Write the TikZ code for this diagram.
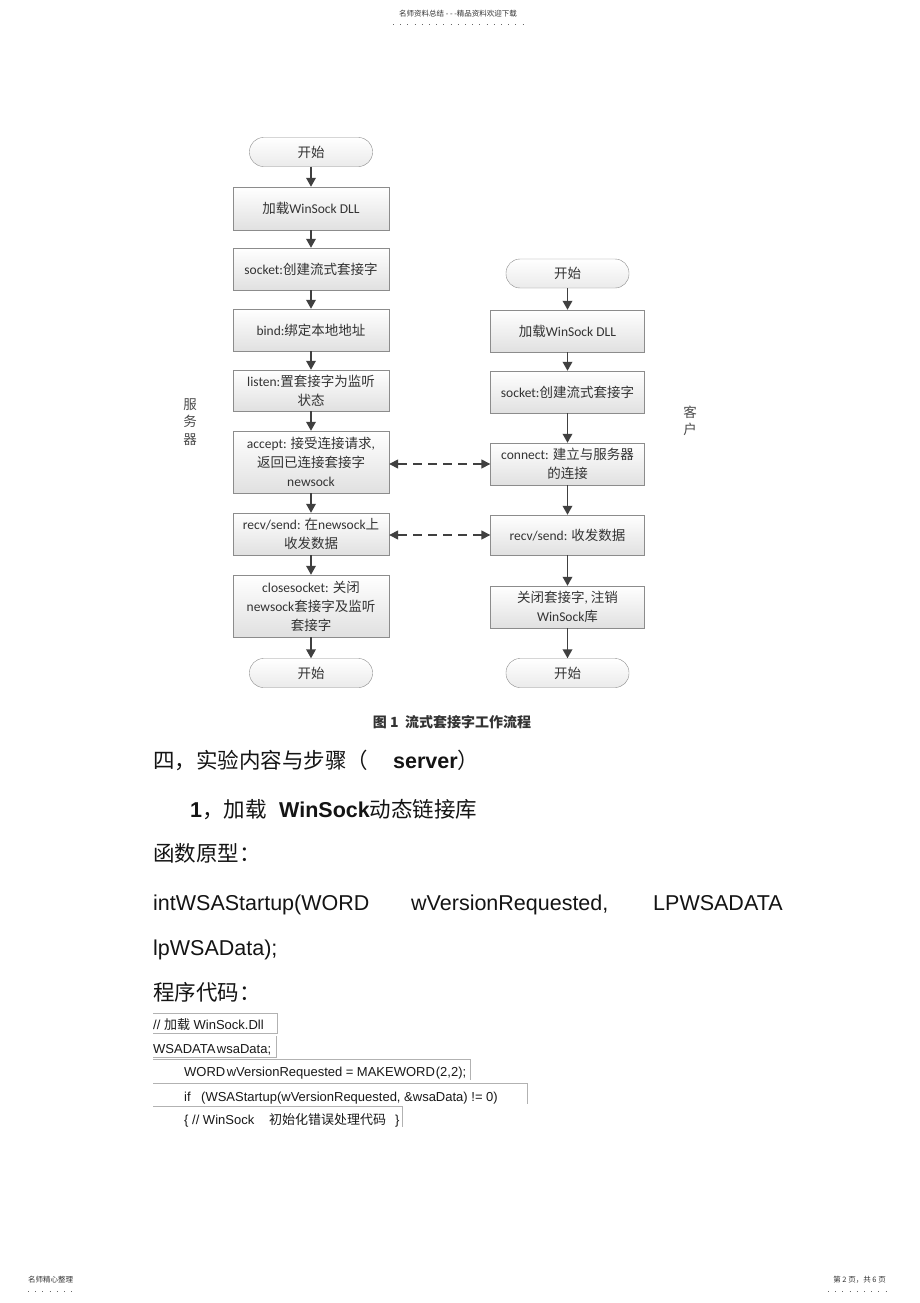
\documentclass[tikz,border=0pt]{standalone}
\usepackage{fontspec}
\setmainfont{Liberation Sans}
\newfontfamily\cjkf{Noto Sans CJK SC}
\newfontfamily\calf{Carlito}
\newcommand\ZH[1]{{\cjkf #1}}
\usetikzlibrary{arrows.meta}
\begin{document}
\begin{tikzpicture}[x=1pt,y=-1pt,
  fbox/.style={draw=black!45, top color=white, bottom color=black!12, text=black!80,
    font=\fontsize{13.5}{19}\selectfont\calf, align=center, inner sep=1pt, minimum width=156pt},
  rbox/.style={fbox, minimum width=154pt},
  term/.style={fbox, rounded corners=14pt, minimum width=123pt, minimum height=29pt, bottom color=black!8},
  arr/.style={draw=black!75, line width=1.8pt, -{Triangle[length=9pt,width=9.5pt]}},
  darr/.style={draw=black!75, line width=1.5pt, {Triangle[length=9pt,width=9pt]}-{Triangle[length=9pt,width=9pt]}, dash pattern=on 9pt off 6pt},
  side/.style={font=\fontsize{13.5}{17.5}\selectfont, text=black!70, align=center, inner sep=0pt},
  body/.style={anchor=base west, font=\fontsize{21.5}{25}\selectfont, text=black!92, inner sep=0pt},
  code/.style={anchor=base west, font=\fontsize{13}{15}\selectfont, text=black!90, inner sep=0pt},
  tiny/.style={font=\fontsize{7.5}{9}\selectfont, text=black!80, inner sep=0pt},
  dotline/.style={draw=black!60, line width=0.8pt, dash pattern=on 0.8pt off 6.4pt},
  cell/.style={draw=black!30, line width=0.7pt}]
\fill[white] (0,0) rectangle (920,1303);
\useasboundingbox (0,0) rectangle (920,1303);

% header
\node[tiny] (HD) at (458,14) {\ZH{名师资料总结 - - -精品资料欢迎下载}};
\coordinate (HDa) at (393,24); \coordinate (HDb) at (526,24);
\draw[dotline] (HDa) -- (HDb);

% left column (server)
\node[term] (L0) at (311,152) {\ZH{开始}};
\node[fbox, minimum height=43pt] (L1) at (311,208.5) {\ZH{加载}WinSock DLL};
\node[fbox, minimum height=42pt] (L2) at (311,269) {socket:\ZH{创建流式套接字}};
\node[fbox, minimum height=42pt] (L3) at (311,330) {bind:\ZH{绑定本地地址}};
\node[fbox, minimum height=41pt] (L4) at (311,390.5) {listen:\ZH{置套接字为监听}\\\ZH{状态}};
\node[fbox, minimum height=62pt] (L5) at (311,462) {accept: \ZH{接受连接请求},\\\ZH{返回已连接套接字}\\newsock};
\node[fbox, minimum height=42pt] (L6) at (311,534) {recv/send: \ZH{在}newsock\ZH{上}\\\ZH{收发数据}};
\node[fbox, minimum height=62pt] (L7) at (311,606) {closesocket: \ZH{关闭}\\newsock\ZH{套接字及监听}\\\ZH{套接字}};
\node[term] (L8) at (311,673) {\ZH{开始}};

% right column (client)
\node[term] (R0) at (567.5,273.5) {\ZH{开始}};
\node[rbox, minimum height=42pt] (R1) at (567.5,331) {\ZH{加载}WinSock DLL};
\node[rbox, minimum height=42pt] (R2) at (567.5,392) {socket:\ZH{创建流式套接字}};
\node[rbox, minimum height=42pt] (R3) at (567.5,464) {connect: \ZH{建立与服务器}\\\ZH{的连接}};
\node[rbox, minimum height=40pt] (R4) at (567.5,535) {recv/send: \ZH{收发数据}};
\node[rbox, minimum height=42pt] (R5) at (567.5,607) {\ZH{关闭套接字}, \ZH{注销}\\WinSock\ZH{库}};
\node[term] (R6) at (567.5,673) {\ZH{开始}};

\foreach \a/\b in {L0/L1,L1/L2,L2/L3,L3/L4,L4/L5,L5/L6,L6/L7,L7/L8,R0/R1,R1/R2,R2/R3,R3/R4,R4/R5,R5/R6}
  \draw[arr] (\a) -- (\b);

\draw[darr] (R3.west) -- (R3.west -| L5.east);
\draw[darr] (R4.west) -- (R4.west -| L6.east);

\node[side] (SV) at (190,422) {\ZH{服}\\\ZH{务}\\\ZH{器}};
\node[side] (KH) at (690,421) {\ZH{客}\\\ZH{户}};

\node[font=\fontsize{14}{16}\selectfont, text=black!80, inner sep=0pt] (CAP) at (452,722) {\ZH{\bfseries 图 1\ \ 流式套接字工作流程}};

% body text
\node[body] (T1) at (153,768) {\ZH{四，实验内容与步骤（}};
\node[body] (T1b) at (393,768) {\textbf{server}\ZH{）}};
\node[body] (T2) at (190,817) {\textbf{1}\ZH{，加载}};
\node[body] (T2b) at (279,817) {\textbf{WinSock}\ZH{动态链接库}};
\node[body] (T3) at (153,861) {\ZH{函数原型：}};
\node[body] (T4a) at (153,910) {intWSAStartup(WORD};
\node[body] (T4b) at (411,910) {wVersionRequested,};
\node[body] (T4c) at (653,910) {LPWSADATA};
\node[body] (T5) at (153,955) {lpWSAData);};
\node[body] (T6) at (153,1000) {\ZH{程序代码：}};

% code
\node[code] (C1) at (153,1029) {// \ZH{加载} WinSock.Dll};
\node[code] (C2a) at (153,1053) {WSADATA};
\node[code] (C2b) at ([xshift=1pt]C2a.base east) {wsaData;};
\node[code] (C3a) at (184,1076) {WORD};
\node[code] (C3b) at ([xshift=1pt]C3a.base east) {wVersionRequested =};
\node[code] (C3c) at ([xshift=3pt]C3b.base east) {MAKEWORD};
\node[code] (C3d) at ([xshift=0.5pt]C3c.base east) {(2,2);};
\node[code] (C4a) at (184,1101) {if};
\node[code] (C4b) at (201,1101) {(WSAStartup(wVersionRequested, \&wsaData) != 0)};
\node[code] (C5a) at (184,1124) {\{ // WinSock};
\node[code] (C5b) at (269,1124) {\ZH{初始化错误处理代码}};
\node[code] (C5c) at (395,1124) {\}};

\draw[cell] (153,1013) -- (277,1013) -- (277,1033) -- (153,1033);
\draw[cell] (276,1036) -- (276,1057) -- (153,1057);
\draw[cell] (153,1059.5) -- (470,1059.5) -- (470,1080);
\draw[cell] (153,1083) -- (527,1083) -- (527,1104);
\draw[cell] (153,1106.5) -- (402,1106.5) -- (402,1127);

% footer
\node[tiny, anchor=west] (FL) at (28,1280) {\ZH{名师精心整理}};
\coordinate (FLa) at (28,1291); \coordinate (FLb) at (76,1291);
\draw[dotline] (FLa) -- (FLb);
\node[tiny, anchor=east] (FR) at (886,1280) {\ZH{第 2 页，共 6 页}};
\coordinate (FRa) at (828,1291); \coordinate (FRb) at (891,1291);
\draw[dotline] (FRa) -- (FRb);
\end{tikzpicture}
\end{document}
